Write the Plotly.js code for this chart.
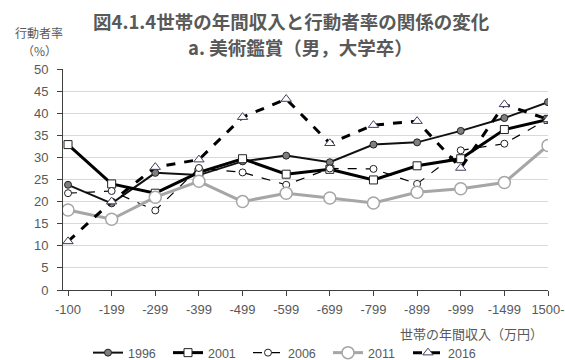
<!DOCTYPE html>
<html>
<head>
<meta charset="utf-8">
<script src="https://cdn.plot.ly/plotly-3.0.1.min.js"></script>
<style>html,body{margin:0;padding:0;background:#fff;}#chart{width:565px;height:360px;}</style>
</head>
<body>
<div id="chart"></div>
<script>
const categories = ["-100","-199","-299","-399","-499","-599","-699","-799","-899","-999","-1499","1500-"];
const s1996 = [23.8, 19.6, 26.5, 26.0, 29.1, 30.4, 28.9, 32.9, 33.4, 36.0, 38.9, 42.5];
const s2001 = [32.9, 24.0, 21.9, 26.6, 29.7, 26.2, 27.3, 24.9, 28.1, 29.7, 36.3, 38.6];
const s2006 = [21.9, 22.4, 18.0, 27.6, 26.6, 23.8, 27.5, 27.4, 24.0, 31.6, 33.1, 38.7];
const s2011 = [18.1, 16.0, 21.0, 24.6, 20.0, 21.9, 20.8, 19.7, 22.1, 22.9, 24.3, 32.7];
const s2016 = [11.0, 20.0, 27.8, 29.5, 39.1, 43.2, 33.2, 37.3, 38.2, 27.6, 42.0, 38.6];
const seriesNames = ["1996","2001","2006","2011","2016"];

const jp = '"Noto Sans CJK JP", sans-serif';
const num = '"Liberation Sans", Arial, sans-serif';
const txt = '#595959';

const traces = [
  {name: seriesNames[0], y: s1996, line: {color: '#111', width: 2},
   marker: {symbol: 'circle', size: 7, color: '#7f7f7f', line: {color: '#222', width: 1}}},
  {name: seriesNames[1], y: s2001, line: {color: '#000', width: 3},
   marker: {symbol: 'square', size: 8, color: '#fff', line: {color: '#222', width: 1}}},
  {name: seriesNames[2], y: s2006, line: {color: '#000', width: 1.2, dash: 'dash'},
   marker: {symbol: 'circle', size: 7, color: '#fff', line: {color: '#222', width: 1}}},
  {name: seriesNames[3], y: s2011, line: {color: '#a6a6a6', width: 3},
   marker: {symbol: 'circle', size: 12, color: '#fff', line: {color: '#a6a6a6', width: 1.5}}},
  {name: seriesNames[4], y: s2016, line: {color: '#000', width: 3, dash: 'dash'},
   marker: {symbol: 'triangle-up', size: 9, color: '#fff', line: {color: '#404060', width: 1}}}
].map(t => Object.assign({type: 'scatter', mode: 'lines+markers', x: categories}, t));

const layout = {
  width: 565, height: 360,
  margin: {l: 63, r: 17, t: 69, b: 70},
  paper_bgcolor: '#fff', plot_bgcolor: '#fff',
  showlegend: true,
  legend: {orientation: 'h', xref: 'container', yref: 'container',
           x: 88 / 565, xanchor: 'left', y: 7 / 360, yanchor: 'middle',
           entrywidth: 35, entrywidthmode: 'pixels',
           font: {family: num, size: 12.5, color: txt}, itemwidth: 30, tracegroupgap: 0},
  xaxis: {type: 'category', range: [-0.115, 11], showgrid: false, zeroline: false,
          showline: true, linecolor: '#404040', linewidth: 1,
          ticks: 'outside', ticklen: 5, tickcolor: '#404040', ticklabelstandoff: 2,
          tickfont: {family: num, size: 13, color: txt}},
  yaxis: {range: [0, 50], dtick: 5, showgrid: true, gridcolor: '#d9d9d9', gridwidth: 1,
          zeroline: false, showline: true, linecolor: '#404040', linewidth: 1,
          ticks: 'outside', ticklen: 5, tickcolor: '#404040', ticklabelstandoff: 6,
          tickfont: {family: num, size: 13, color: txt}},
  annotations: [
    {text: '<b>図4.1.4世帯の年間収入と行動者率の関係の変化</b>', xref: 'paper', yref: 'paper',
     x: 0.471, y: 1, yshift: 48, xanchor: 'center', yanchor: 'middle', showarrow: false,
     font: {family: jp, size: 18.5, color: txt}},
    {text: '<b>a. 美術鑑賞（男，大学卒）</b>', xref: 'paper', yref: 'paper',
     x: 0.489, y: 1, yshift: 22, xanchor: 'center', yanchor: 'middle', showarrow: false,
     font: {family: jp, size: 18.5, color: txt}},
    {text: '行動者率', xref: 'paper', yref: 'paper', x: 0, xshift: -24, y: 1, yshift: 37,
     xanchor: 'center', yanchor: 'middle', showarrow: false, font: {family: jp, size: 12, color: txt}},
    {text: '（%）', xref: 'paper', yref: 'paper', x: 0, xshift: -24, y: 1, yshift: 19,
     xanchor: 'center', yanchor: 'middle', showarrow: false, font: {family: jp, size: 12, color: txt}},
    {text: '世帯の年間収入（万円）', xref: 'paper', yref: 'paper', x: 1, xshift: -3, y: 0, yshift: -43,
     xanchor: 'right', yanchor: 'middle', showarrow: false, font: {family: jp, size: 13, color: txt}}
  ]
};

Plotly.newPlot('chart', traces, layout, {displayModeBar: false, staticPlot: true});
</script>
</body>
</html>
